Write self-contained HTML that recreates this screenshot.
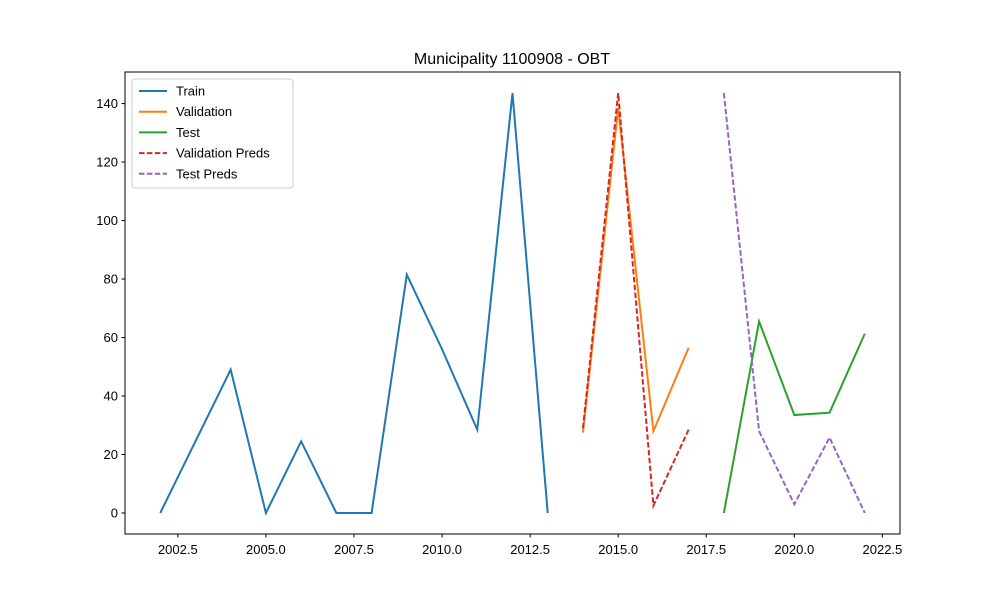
<!DOCTYPE html>
<html><head><meta charset="utf-8"><style>
body{margin:0;background:#fff}
svg{font-family:"Liberation Sans","DejaVu Sans",sans-serif}
</style></head><body>
<svg id="chart" width="1000" height="600">
<rect width="1000" height="600" fill="#fff"/>
<text x="512" y="64" text-anchor="middle" font-size="16">Municipality 1100908 - OBT</text>
<g id="plot"></g>
<rect x="125" y="72" width="775" height="462" fill="none" stroke="#000" stroke-width="1"/>
<g id="xaxis"></g>
<g id="yaxis"></g>
<g>
<rect x="132" y="79" width="161" height="109" rx="3" fill="#fff" fill-opacity="0.8" stroke="#ccc"/>
<g id="legend"></g>
</g>
</svg>
<script>
const trainYears=[2002,2003,2004,2005,2006,2007,2008,2009,2010,2011,2012,2013];
const trainVals=[0,24.5,49,0,24.5,0,0,81.5,56,28.5,143.6,0];
const valYears=[2014,2015,2016,2017];
const valVals=[27.5,138.5,28,56.5];
const testYears=[2018,2019,2020,2021,2022];
const testVals=[0,65.5,33.5,34.3,61.3];
const valPredVals=[29,143.6,2.5,28.5];
const testPredVals=[143.6,28,3,25.8,0];
const xTicks=[2002.5,2005.0,2007.5,2010.0,2012.5,2015.0,2017.5,2020.0,2022.5];
const yTicks=[0,20,40,60,80,100,120,140];

const X0=125,X1=900,Y0=534,Y1=72;
const xmin=2001,xmax=2023,ymin=-7.18,ymax=150.8;
const sx=v=>X0+(v-xmin)/(xmax-xmin)*(X1-X0);
const sy=v=>Y0-(v-ymin)/(ymax-ymin)*(Y0-Y1);
const NS="http://www.w3.org/2000/svg";
function mk(tag,attrs,parent){const e=document.createElementNS(NS,tag);for(const k in attrs)e.setAttribute(k,attrs[k]);parent.appendChild(e);return e;}

const plot=document.getElementById('plot');
const series=[
 {name:'Train',xs:trainYears,ys:trainVals,c:'#1f77b4',d:null,id:'train-line'},
 {name:'Validation',xs:valYears,ys:valVals,c:'#ff7f0e',d:null,id:'validation-line'},
 {name:'Test',xs:testYears,ys:testVals,c:'#2ca02c',d:null,id:'test-line'},
 {name:'Validation Preds',xs:valYears,ys:valPredVals,c:'#d62728',d:'5.5,2.4',id:'validation-preds-line'},
 {name:'Test Preds',xs:testYears,ys:testPredVals,c:'#9467bd',d:'5.5,2.4',id:'test-preds-line'}
];
series.forEach(s=>{
 const pts=s.xs.map((x,i)=>sx(x)+','+sy(s.ys[i])).join(' ');
 const a={points:pts,fill:'none',stroke:s.c,'stroke-width':2};
 if(s.d)a['stroke-dasharray']=s.d;
 const p=mk('polyline',a,plot);
 
 
});

const xa=document.getElementById('xaxis');
xTicks.forEach(t=>{
 const x=sx(t);
 mk('line',{x1:x,x2:x,y1:534,y2:537.5,stroke:'#000'},xa);
 const tx=mk('text',{x:x,y:554,'text-anchor':'middle','font-size':13},xa);
 tx.textContent=t.toFixed(1);
 
 
});
const ya=document.getElementById('yaxis');
yTicks.forEach(t=>{
 const y=sy(t);
 mk('line',{x1:121.5,x2:125,y1:y,y2:y,stroke:'#000'},ya);
 const tx=mk('text',{x:118,y:y+4.5,'text-anchor':'end','font-size':13},ya);
 tx.textContent=t;
 
 
});

const lg=document.getElementById('legend');
series.forEach((s,i)=>{
 const y=91+i*20.7;
 const a={x1:139,x2:167,y1:y,y2:y,stroke:s.c,'stroke-width':2};
 if(s.d)a['stroke-dasharray']=s.d;
 mk('line',a,lg);
 const tx=mk('text',{x:176,y:y+4.5,'font-size':13},lg);
 tx.textContent=s.name;
 
 
});
</script>
</body></html>
